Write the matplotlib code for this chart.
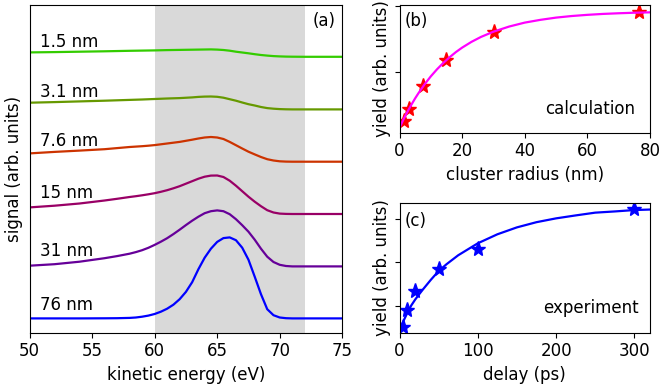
import matplotlib
matplotlib.use("Agg")
import matplotlib.pyplot as plt

plt.rcParams['font.family'] = ['DejaVu Sans']
plt.rcParams['font.size'] = 12

# ---------------- panel (a): spectra ----------------
energy = [50, 52, 54, 56, 57, 58, 58.5, 59, 59.5, 60, 60.5, 61, 61.5, 62, 62.5,
          63, 63.5, 64, 64.5, 65, 65.5, 66, 66.5, 67, 67.5, 68, 68.5, 69, 69.5,
          70, 70.5, 71, 72, 73, 75]

sig_1p5 = [280.3, 280.6, 281.0, 281.4, 281.65, 281.9, 282.0, 282.1, 282.2, 282.3,
           282.45, 282.6, 282.7, 282.8, 282.9, 283.0, 283.1, 283.2, 283.3, 283.1,
           282.7, 282.0, 281.0, 280.2, 279.4, 278.5, 277.7, 277.1, 276.6, 276.3,
           276.1, 276.0, 275.9, 275.9, 275.9]
sig_3p1 = [230.0, 230.6, 231.3, 232.0, 232.4, 232.8, 233.0, 233.2, 233.45, 233.7,
           233.95, 234.2, 234.4, 234.6, 234.95, 235.3, 235.8, 236.1, 236.2, 235.9,
           235.0, 233.5, 232.0, 230.2, 228.5, 227.2, 225.7, 224.6, 224.0, 223.6,
           223.4, 223.3, 223.3, 223.3, 223.3]
sig_7p6 = [179.3, 180.8, 182.1, 183.5, 184.6, 185.7, 186.1, 186.5, 187.0, 187.6,
           188.4, 189.2, 190.0, 190.8, 191.9, 193.0, 194.2, 195.2, 195.7, 195.2,
           193.7, 190.8, 187.5, 184.2, 181.0, 178.3, 175.7, 173.5, 172.2, 171.4,
           171.1, 171.0, 171.0, 171.0, 171.0]
sig_15 = [125.3, 127.0, 129.2, 132.2, 133.9, 135.7, 136.5, 137.4, 138.4, 139.5,
          140.9, 142.5, 144.4, 146.5, 149.0, 151.5, 154.0, 156.0, 157.1, 157.2,
          155.7, 152.0, 147.0, 141.5, 136.0, 131.0, 126.5, 122.5, 120.2, 119.1,
          118.8, 118.7, 118.7, 118.7, 118.7]
sig_31 = [67.0, 68.5, 71.0, 74.5, 76.6, 79.0, 80.6, 82.5, 84.9, 87.8,
          91.0, 94.5, 98.6, 103.0, 107.6, 112.0, 116.0, 119.5, 121.5, 122.3,
          121.5, 118.5, 113.5, 107.5, 101.0, 93.0, 84.0, 76.0, 70.7, 67.9,
          66.7, 66.3, 66.3, 66.3, 66.3]
sig_76 = [14.3, 14.3, 14.3, 14.4, 14.5, 14.8, 15.2, 16.0, 17.1, 18.7,
          21.0, 24.0, 28.0, 33.5, 40.8, 50.5, 63.5, 75.0, 84.0, 90.8,
          94.6, 95.3, 92.5, 85.0, 73.0, 56.0, 38.5, 23.5, 17.5, 15.2,
          14.5, 14.3, 14.3, 14.3, 14.3]

spectra = [sig_1p5, sig_3p1, sig_7p6, sig_15, sig_31, sig_76]
size_labels = ["1.5 nm", "3.1 nm", "7.6 nm", "15 nm", "31 nm", "76 nm"]
label_y = [286.0, 235.3, 187.0, 135.0, 77.0, 22.3]
colors = ["#33cc00", "#669900", "#cc3300", "#990066", "#660099", "#0000ff"]

# ---------------- panel (b): calculation ----------------
calc_radius = [1.5, 3.0, 7.6, 15.0, 30.2, 76.4]
calc_yield = [0.125, 0.214, 0.393, 0.589, 0.800, 0.952]
fit_radius = [0, 1, 2, 3, 4, 5, 6, 8, 10, 12, 14, 16, 18, 20, 23, 26, 30, 35,
              40, 45, 50, 55, 60, 65, 70, 75, 80]
fit_calc = [0.074, 0.124, 0.171, 0.215, 0.257, 0.297, 0.334, 0.403, 0.464,
            0.518, 0.566, 0.609, 0.648, 0.682, 0.726, 0.763, 0.803, 0.842,
            0.872, 0.893, 0.910, 0.922, 0.931, 0.938, 0.943, 0.947, 0.950]

# ---------------- panel (c): experiment ----------------
exp_delay = [5, 10, 20, 50, 100, 300]
exp_yield = [0.378, 0.475, 0.586, 0.710, 0.825, 1.056]
fit_delay = [0, 2.5, 5, 10, 15, 20, 25, 30, 40, 50, 60, 75, 100, 125, 150,
             175, 200, 225, 250, 275, 300, 320]
fit_exp = [0.362, 0.387, 0.411, 0.458, 0.501, 0.535, 0.565, 0.594, 0.649,
           0.700, 0.739, 0.791, 0.860, 0.912, 0.952, 0.982, 1.004, 1.021,
           1.037, 1.044, 1.052, 1.055]

W, H = 661, 390
fig = plt.figure(figsize=(W / 100, H / 100), dpi=100)

def frac(l, t, r, b):
    return [l / W, 1 - b / H, (r - l) / W, (b - t) / H]

ax_a = fig.add_axes(frac(29.5, 4.7, 342.3, 332.7))
ax_b = fig.add_axes(frac(399.5, 4.7, 650.0, 132.7))
ax_c = fig.add_axes(frac(399.5, 203.3, 650.0, 332.5))

# (a)
ax_a.axvspan(60, 72, color="#d9d9d9", lw=0, zorder=0)
for sig, lab, ly, col in zip(spectra, size_labels, label_y, colors):
    ax_a.plot(energy, sig, color=col, lw=1.6)
    ax_a.text(50.85, ly, lab, ha="left", va="baseline")
ax_a.set_xlim(50, 75)
ax_a.set_ylim(0, 328)
ax_a.set_xticks([50, 55, 60, 65, 70, 75])
ax_a.set_yticks([])
ax_a.set_xlabel("kinetic energy (eV)")
ax_a.set_ylabel("signal (arb. units)", labelpad=4.5)
ax_a.text(0.978, 0.978, "(a)", transform=ax_a.transAxes, ha="right", va="top")

# (b)
ax_b.plot(calc_radius, calc_yield, ls="none", marker="*", ms=11,
          color="#ff0000", mec="#ff0000")
ax_b.plot(fit_radius, fit_calc, color="#ff00ff", lw=1.6)
ax_b.set_xlim(0, 80)
ax_b.set_ylim(0.036, 1.008)
ax_b.set_xticks([0, 20, 40, 60, 80])
ax_b.set_yticks([0.5, 1.0])
ax_b.set_yticklabels([])
ax_b.set_xlabel("cluster radius (nm)")
ax_b.set_ylabel("yield (arb. units)", labelpad=-1)
ax_b.text(0.022, 0.945, "(b)", transform=ax_b.transAxes, ha="left", va="top")
ax_b.text(0.94, 0.146, "calculation", transform=ax_b.transAxes,
          ha="right", va="baseline")

# (c)
ax_c.plot(exp_delay, exp_yield, ls="none", marker="*", ms=11,
          color="#0000ff", mec="#0000ff")
ax_c.plot(fit_delay, fit_exp, color="#0000ff", lw=1.6)
ax_c.set_xlim(0, 320)
ax_c.set_ylim(0.345, 1.091)
ax_c.set_xticks([0, 100, 200, 300])
ax_c.set_yticks([0.5, 0.75, 1.0])
ax_c.set_yticklabels([])
ax_c.set_xlabel("delay (ps)")
ax_c.set_ylabel("yield (arb. units)", labelpad=-1)
ax_c.text(0.022, 0.935, "(c)", transform=ax_c.transAxes, ha="left", va="top")
ax_c.text(0.955, 0.149, "experiment", transform=ax_c.transAxes,
          ha="right", va="baseline")

fig.savefig("out.png", dpi=100)
